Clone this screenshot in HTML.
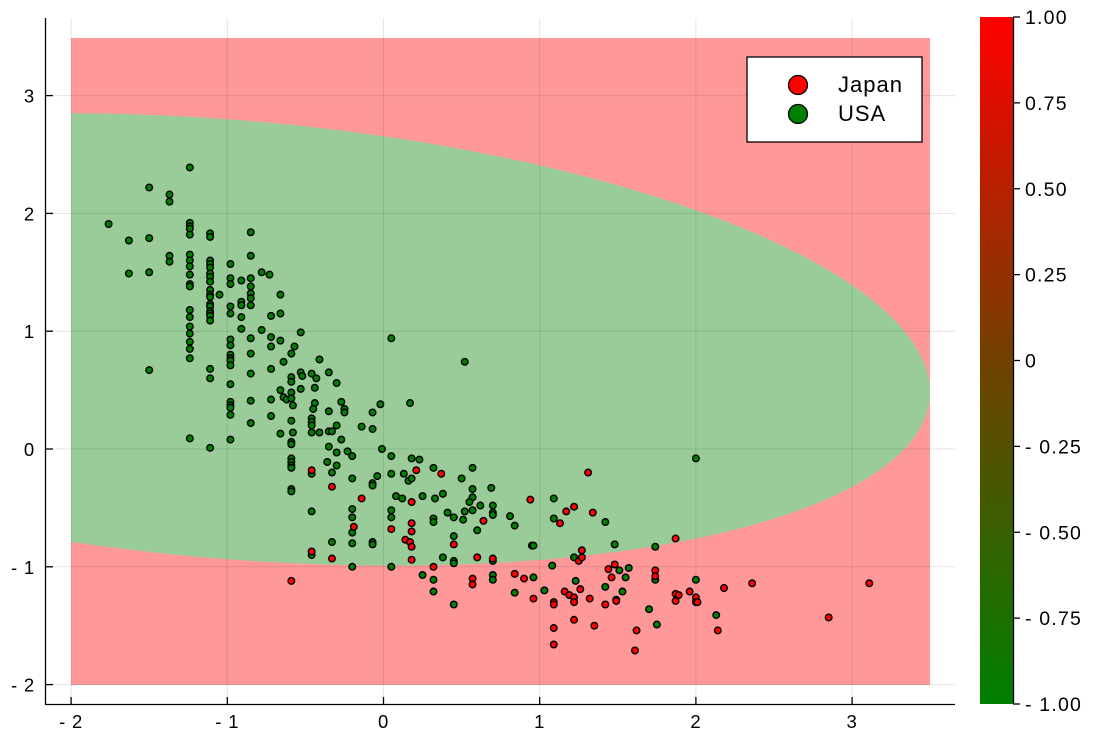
<!DOCTYPE html>
<html><head><meta charset="utf-8"><style>
html,body{margin:0;padding:0;background:#fff;}
svg{display:block;font-family:"Liberation Sans",sans-serif;}
</style></head><body>
<svg id="chart" width="1096" height="737" viewBox="0 0 1096 737" xmlns="http://www.w3.org/2000/svg">
<defs>
<linearGradient id="cbgrad" x1="0" y1="1" x2="0" y2="0">
<stop offset="0" stop-color="#008000"/><stop offset="0.5" stop-color="#704000"/><stop offset="1" stop-color="#ff0000"/>
</linearGradient>
<clipPath id="hmclip"><rect x="71" y="38" width="859" height="647"/></clipPath>
</defs>
<g id="bg"></g>
<g id="grid"></g>
<g id="axes"></g>
<g id="pts"></g>
<g>
<rect x="747" y="57" width="175" height="85" fill="#fff" stroke="#000" stroke-width="1.3"/>
<circle cx="798" cy="85" r="9.5" fill="#ff0000" stroke="#000" stroke-width="1.3"/>
<text x="838" y="92" font-size="22" letter-spacing="1">Japan</text>
<circle cx="798" cy="114" r="9.5" fill="#008000" stroke="#000" stroke-width="1.3"/>
<text x="838" y="121" font-size="22" letter-spacing="1">USA</text>
</g>
<g>
<rect x="980" y="17" width="33" height="687" fill="url(#cbgrad)"/>
<line x1="1013.5" y1="17" x2="1013.5" y2="704" stroke="#000" stroke-width="1.3"/>
<g id="cbticks"></g>
</g>
</svg>
<script>
// Data (x, y pairs)
const usaX=[-1.24,-1.50,-1.37,-1.37,-1.76,-1.24,-1.24,-1.24,-1.24,-1.63,-1.50,-1.11,-1.11,-0.85,-1.37,-1.37,-1.24,-1.24,-1.24,-1.24,-1.24,-1.24,-0.85,-1.11,-1.11,-1.11,-1.11,-1.11,-1.11,-1.11,-1.11,-1.11,-1.11,-1.11,-1.11,-1.11,-1.11,-1.11,-1.63,-1.50,-0.98,-0.98,-0.98,-0.91,-0.85,-0.85,-0.85,-0.85,-0.85,-0.78,-0.73,-1.05,-0.91,-0.91,-0.98,-0.98,-0.91,-0.66,-0.72,-0.66,-1.24,-1.24,-1.24,-1.24,-1.24,-1.24,-1.24,-0.91,-0.78,-0.72,-0.72,-0.66,-0.53,-0.98,-0.98,-0.98,-0.98,-0.98,-0.98,-0.85,-0.85,-0.59,-0.57,-0.64,-0.41,-1.50,-1.11,-1.11,-0.85,-0.72,-0.98,-0.59,-0.59,-0.53,-0.52,-0.46,-0.43,-0.53,-0.44,-0.66,-0.64,-0.62,-0.59,-0.59,-0.58,-0.98,-0.98,-0.98,-0.98,-0.85,-0.72,-0.72,-0.44,-0.45,-0.46,-0.46,-0.46,-0.59,-0.85,-0.46,-0.41,-0.58,-0.66,-0.59,-0.59,-1.24,-0.98,-1.11,-0.35,-0.35,-0.35,-0.35,
-0.30,-0.27,-0.25,-0.25,-0.02,0.17,0.05,-0.07,-0.14,-0.07,-0.30,-0.33,-0.27,-0.30,-0.23,-0.20,-0.01,0.05,0.18,0.23,0.32,-0.36,-0.30,-0.59,-0.59,-0.59,-0.59,-0.46,-0.33,-0.20,-0.04,0.05,0.13,0.16,0.18,-0.07,-0.07,0.08,0.12,0.25,0.33,0.38,-0.59,-0.59,-0.46,-0.20,-0.20,0.05,0.05,-0.20,0.32,0.32,0.41,-0.33,-0.20,-0.07,-0.07,-0.46,0.38,-0.20,0.05,0.25,0.32,0.32,
0.52,2.00,0.57,0.50,0.57,0.57,0.55,0.52,0.57,0.62,0.69,0.70,0.70,0.70,0.51,0.45,0.45,0.60,0.81,0.84,1.09,1.09,1.42,0.95,0.96,1.48,1.74,0.45,0.45,0.70,1.08,1.22,1.51,1.55,1.57,1.74,2.00,0.70,0.70,0.96,0.84,1.03,1.23,1.42,1.53,1.70,1.75,0.45,2.13];
const usaY=[2.39,2.22,2.16,2.10,1.91,1.92,1.89,1.87,1.82,1.77,1.79,1.83,1.80,1.84,1.64,1.59,1.65,1.60,1.55,1.48,1.40,1.38,1.64,1.60,1.57,1.54,1.49,1.46,1.42,1.35,1.31,1.29,1.23,1.21,1.17,1.15,1.13,1.09,1.49,1.50,1.57,1.45,1.40,1.43,1.45,1.38,1.32,1.28,1.22,1.50,1.48,1.31,1.25,1.22,1.21,1.15,1.12,1.31,1.13,1.15,1.18,1.12,1.04,0.98,0.91,0.85,0.77,1.02,1.01,0.95,0.87,0.92,0.99,0.93,0.88,0.80,0.77,0.75,0.71,0.94,0.81,0.81,0.87,0.74,0.76,0.67,0.68,0.60,0.64,0.68,0.55,0.61,0.57,0.65,0.62,0.64,0.60,0.51,0.52,0.50,0.44,0.42,0.48,0.43,0.37,0.40,0.37,0.35,0.29,0.41,0.42,0.28,0.39,0.34,0.26,0.23,0.20,0.24,0.22,0.14,0.14,0.14,0.13,0.06,0.04,0.09,0.08,0.01,0.65,0.32,0.15,0.02,
0.56,0.40,0.34,0.31,0.38,0.39,0.94,0.31,0.19,0.17,0.20,0.15,0.08,-0.03,-0.02,-0.06,0.00,-0.06,-0.08,-0.09,-0.16,-0.11,-0.14,-0.08,-0.11,-0.14,-0.16,-0.21,-0.20,-0.25,-0.23,-0.21,-0.21,-0.27,-0.25,-0.29,-0.31,-0.40,-0.42,-0.40,-0.42,-0.38,-0.34,-0.36,-0.53,-0.51,-0.58,-0.52,-0.58,-0.71,-0.59,-0.62,-0.54,-0.79,-0.80,-0.79,-0.81,-0.90,-0.92,-1.00,-1.00,-1.07,-1.11,-1.21,
0.74,-0.08,-0.16,-0.25,-0.34,-0.41,-0.45,-0.53,-0.52,-0.48,-0.33,-0.48,-0.54,-0.56,-0.60,-0.58,-0.74,-0.69,-0.57,-0.65,-0.42,-0.59,-0.62,-0.82,-0.82,-0.81,-0.83,-0.95,-0.97,-0.95,-0.99,-0.92,-1.03,-1.09,-1.01,-1.11,-1.11,-1.07,-1.11,-1.09,-1.22,-1.20,-1.12,-1.17,-1.21,-1.36,-1.49,-1.32,-1.41];
const japanX=[-0.46,0.21,0.37,-0.33,-0.14,0.18,-0.19,0.05,0.18,0.18,0.14,0.17,0.18,-0.46,-0.33,0.18,0.32,-0.59,0.64,0.45,0.94,1.13,1.17,1.22,1.31,1.34,1.87,0.60,0.70,1.25,1.27,1.27,1.44,1.48,1.46,1.74,1.74,0.57,0.57,0.84,0.90,0.96,1.16,1.19,1.22,1.22,1.26,1.09,1.09,1.32,1.42,1.49,1.49,1.22,1.35,1.09,1.09,1.62,1.61,1.87,1.89,1.87,1.96,2.00,2.00,2.01,2.18,2.36,2.14,2.85,3.11];
const japanY=[-0.18,-0.18,-0.21,-0.32,-0.42,-0.45,-0.66,-0.68,-0.63,-0.70,-0.77,-0.79,-0.83,-0.87,-0.93,-0.94,-1.00,-1.12,-0.61,-0.81,-0.43,-0.63,-0.53,-0.49,-0.20,-0.54,-0.76,-0.92,-0.93,-0.95,-0.92,-0.86,-1.02,-0.98,-1.09,-1.03,-1.08,-1.10,-1.15,-1.06,-1.10,-1.27,-1.21,-1.24,-1.26,-1.30,-1.19,-1.30,-1.32,-1.27,-1.32,-1.28,-1.29,-1.45,-1.50,-1.52,-1.66,-1.54,-1.71,-1.23,-1.24,-1.29,-1.21,-1.26,-1.30,-1.30,-1.18,-1.14,-1.54,-1.43,-1.14];
const xTicks=[-2,-1,0,1,2,3];
const xTickLabels=["- 2","- 1","0","1","2","3"];
const yTicks=[-2,-1,0,1,2,3];
const yTickLabels=["- 2","- 1","0","1","2","3"];
const cbTicks=[-1,-0.75,-0.5,-0.25,0,0.25,0.5,0.75,1];
const cbTickLabels=["- 1.00","- 0.75","- 0.50","- 0.25","0","0.25","0.50","0.75","1.00"];

const NS="http://www.w3.org/2000/svg";
const sx=v=>383.5+v*156.2;
const sy=v=>449-v*117.8;
const cby=v=>360.5-v*343.5;
function mk(tag,attrs,parent){const e=document.createElementNS(NS,tag);for(const k in attrs)e.setAttribute(k,attrs[k]);parent.appendChild(e);return e;}

// background region
const bg=document.getElementById('bg');
const r=mk('rect',{x:71,y:38,width:859,height:647,fill:'#ff9999'},bg);


let d='';
for(let i=0;i<=200;i++){const t=i/200*2*Math.PI;const px=230+700*Math.cos(t);const mid=327.5+0.075*(px-71);const py=mid+220*Math.sin(t);d+=(i?'L':'M')+px.toFixed(1)+' '+py.toFixed(1);}
const el=mk('path',{d:d+'Z',fill:'#99cc99','clip-path':'url(#hmclip)'},bg);



// grid
const grid=document.getElementById('grid');
xTicks.forEach(v=>{const l=mk('line',{x1:sx(v),x2:sx(v),y1:18,y2:704,stroke:'#000','stroke-opacity':0.1,'stroke-width':1},grid);

});
yTicks.forEach(v=>{const l=mk('line',{x1:46,x2:955,y1:sy(v),y2:sy(v),stroke:'#000','stroke-opacity':0.1,'stroke-width':1},grid);

});

// axes
const ax=document.getElementById('axes');
const ya=mk('line',{x1:45.5,y1:18,x2:45.5,y2:704.5,stroke:'#000','stroke-width':1.3},ax);


const xa=mk('line',{x1:45,y1:704.5,x2:955,y2:704.5,stroke:'#000','stroke-width':1.3},ax);


xTicks.forEach((v,i)=>{mk('line',{x1:sx(v),x2:sx(v),y1:704,y2:697,stroke:'#000','stroke-width':1.3},ax);
const t=mk('text',{x:sx(v),y:728,'font-size':18.5,'letter-spacing':0.8,'text-anchor':'middle'},ax);t.textContent=xTickLabels[i];

});
yTicks.forEach((v,i)=>{mk('line',{x1:46,x2:53,y1:sy(v),y2:sy(v),stroke:'#000','stroke-width':1.3},ax);
const t=mk('text',{x:35,y:sy(v)+7,'font-size':18.5,'letter-spacing':0.8,'text-anchor':'end'},ax);t.textContent=yTickLabels[i];

});

// colorbar ticks
const cb=document.getElementById('cbticks');
cbTicks.forEach((v,i)=>{mk('line',{x1:1013,x2:1020,y1:cby(v),y2:cby(v),stroke:'#000','stroke-width':1.3},cb);
const t=mk('text',{x:1025,y:cby(v)+7,'font-size':19.5,'letter-spacing':1.2},cb);t.textContent=cbTickLabels[i];

});

// points
const pts=document.getElementById('pts');
usaX.forEach((x,i)=>{const c=mk('circle',{cx:sx(x),cy:sy(usaY[i]),r:3.3,fill:'#008000',stroke:'#000','stroke-width':1.4},pts);

});
japanX.forEach((x,i)=>{const c=mk('circle',{cx:sx(x),cy:sy(japanY[i]),r:3.3,fill:'#ff0000',stroke:'#000','stroke-width':1.4},pts);

});
</script>
</body></html>
